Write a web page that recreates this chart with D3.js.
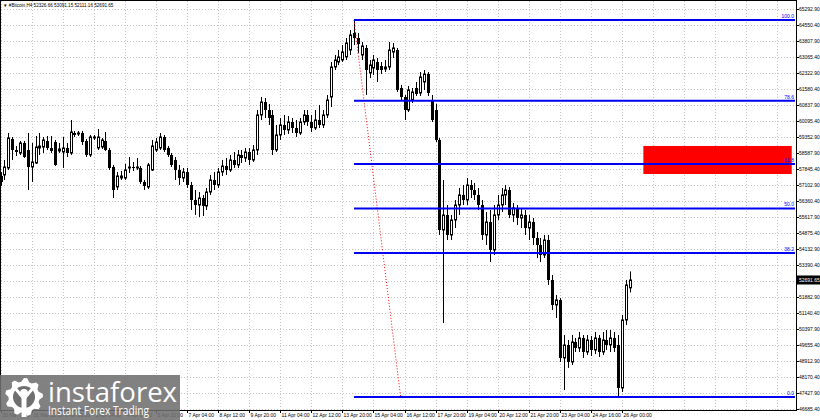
<!DOCTYPE html>
<html><head><meta charset="utf-8">
<script src="https://cdn.jsdelivr.net/npm/d3@7"></script>
<style>body{margin:0;background:#fff;} svg{display:block;font-family:"Liberation Sans",Arial,sans-serif;}</style>
</head><body><svg id="c" width="820" height="420"></svg>
<script>
// ---------- DATA ----------
const symbolTitle = "#Bitcoin,H4";
const lastOHLC = [52326.66, 53091.15, 52111.16, 52691.65];
const openP = [57533,57580,57906,59256,58743,58604,59069,58743,57952,58138,58837,58883,59162,58837,59116,58697,58650,58837,58604,59535,
59488,59535,59162,58511,59302,58837,58883,59162,58743,57952,57021,57440,57440,57906,57952,57906,57906,57254,57021,57812,
58743,58837,59349,58837,58511,58278,57812,57440,57719,57114,56416,56183,56509,56137,56788,57347,57114,57719,57999,57812,
58278,58045,58511,58371,58650,58278,58743,60373,60978,60605,60373,58743,59442,59907,59674,60047,59768,59535,60047,60373,
60047,59768,60140,59907,60373,61211,62607,62840,62933,63073,63398,64190,63957,63166,63492,62328,62561,62840,62654,62514,
62607,63305,63398,61630,61211,60605,61071,61630,61397,61909,62281,61071,60605,59209,55019,55718,54787,55485,56183,56649,
56416,57114,56881,56649,56183,54787,55392,54088,55718,56183,56649,56881,55718,56044,55578,55718,55113,55392,54647,54321,
53856,54554,52692,51528,51761,49061,49666,48875,49806,49527,49992,49340,49899,49433,49992,49340,49899,49666,49992,49666,
47665,50830,52326.66];
const highP = [57719,58278,59535,59349,58930,59162,59162,59535,59069,59395,59535,59349,59395,59395,59209,59069,59349,59069,60140,59628,
59628,59628,59256,59442,59442,59721,59302,59581,58837,58045,57719,57766,58092,58418,58185,58371,57999,57347,58138,59209,
59302,59535,59442,58930,58604,58418,58045,57906,57906,57254,56881,56788,56649,56975,57580,57719,57906,58278,58371,58511,
58650,58743,58743,58837,58837,58976,60605,61211,61164,60885,60605,59907,60233,60373,60326,60233,60140,60233,60605,60605,
60373,60605,60838,60605,61304,62840,63166,63398,63631,63957,64329,64795,64190,63771,63631,62933,63166,63026,62840,62933,
63771,63724,63492,61769,61304,61723,61630,61909,62374,62467,62374,61304,60885,59302,57347,56183,55718,56416,56975,57114,
57440,57347,57207,56975,56416,55857,55950,56183,56649,56975,57114,57021,56276,56183,56044,55950,55718,55578,54926,54647,
54787,54787,52925,51994,51854,50132,49899,50132,49992,50271,50132,50132,50085,50271,50132,50271,50364,50364,50271,50132,
51063,52692,53091.15];
const lowP = [57068,57347,57812,58278,58464,58511,58371,56881,57254,58092,58511,58604,58743,58604,57999,58604,57906,58418,58511,59349,
59395,58976,58418,58418,59209,58743,58790,58697,57812,56509,56881,57347,57347,57673,57766,57812,57161,56881,56928,57766,
58650,58743,58650,58418,57952,57347,57114,57254,56975,55950,55718,55625,55671,55950,56649,56881,56975,57533,57580,57719,
57906,57906,58138,58185,58045,58185,58511,60140,60233,59907,58511,58650,59209,59442,59488,59535,59349,59442,59907,59861,
59581,59674,59768,59768,60233,60745,62467,62700,62840,62933,63166,63631,63259,62933,61304,62095,62235,61909,62281,62374,
62467,63026,61443,61071,60140,60512,60931,61257,61257,61536,61257,60047,59116,54787,50690,54554,54554,55113,55718,56183,
56183,56509,56416,55950,54554,54321,53530,53856,55485,55857,56183,55578,55392,55252,55113,54787,54554,54321,53716,53530,
53716,52459,51295,50923,48875,47571,48596,48735,49340,49340,49061,49201,49154,49247,49108,49201,49433,49340,49340,47246,
47478,50597,52111.16];
const closeP = [57254,57952,59302,58743,58650,59069,58418,57952,58185,58883,58930,59209,58837,58697,58045,58790,58837,58604,59581,59442,
59535,59116,58511,59349,59349,59349,59209,58743,57906,56881,57533,57533,57812,57952,57906,57952,57254,57068,58045,58930,
59116,59349,58743,58511,58045,57812,57440,57719,57114,56416,56183,56509,56137,56788,57347,57114,57719,57999,57812,58278,
58045,58511,58371,58650,58278,58743,60373,60978,60605,60233,58743,59442,59907,59674,60047,59768,59535,60047,60373,60047,
59768,60140,59907,60373,61071,62607,62933,63073,63305,63724,64097,63957,63678,63585,62467,62700,62933,62467,62467,62607,
63398,63492,61536,61211,60605,61536,61443,61350,62142,62281,61397,60140,59209,55019,55718,54787,55485,56183,56649,56416,
57114,56881,56649,56183,54787,55392,54088,55718,56183,56649,56881,55718,56044,55578,55718,55113,55392,54647,54321,53856,
54554,52692,51528,51761,49061,49666,48875,49806,49527,49992,49340,49899,49433,49992,49340,49899,49666,49992,49527,47665,
50830,52459,52691.65];
const timeLabels = ["30 Mar 2021","31 Mar 12:00","1 Apr 20:00","3 Apr 04:00","4 Apr 12:00","5 Apr 20:00","7 Apr 04:00",
"8 Apr 12:00","9 Apr 20:00","11 Apr 04:00","12 Apr 12:00","13 Apr 20:00","15 Apr 04:00","16 Apr 12:00","17 Apr 20:00",
"19 Apr 04:00","20 Apr 12:00","21 Apr 20:00","23 Apr 04:00","24 Apr 16:00","26 Apr 00:00"];
const timeLabelStep = 8;
const priceLabels = [65292.90,64550.40,63807.90,63065.40,62322.90,61580.40,60837.90,60095.40,59352.90,58587.90,57845.40,
57102.90,56360.40,55617.90,54875.40,54132.90,53390.40,52647.90,51882.90,51140.40,50397.90,49655.40,48912.90,48170.40,47427.90,46685.40];
const fibLevels = [100.0, 78.6, 61.8, 50.0, 38.2, 0.0];
const fibHigh = 64795, fibLow = 47246;
const fibHighBar = 91, fibLowBar = 103;
const zoneTop = 58930, zoneBottom = 57626;
const zoneBars = [165.5, 203.7];
const chartEndBar = 204.8;

// ---------- LAYOUT ----------
const plotRight = 796, plotBottom = 410;
const svg = d3.select("#c");
const x = d3.scaleLinear().domain([0, chartEndBar]).range([0.6, plotRight]);
const y = d3.scaleLinear().domain([46685.4, 65292.9]).range([409, 9.3]);
const fmt = d3.format(".2f");

const g = svg.append("g");
// grid
const gridBars = d3.range(0, chartEndBar, timeLabelStep);
g.selectAll(".vg").data(gridBars).enter().append("line")
  .attr("x1", d => Math.round(x(d)) + 0.5).attr("x2", d => Math.round(x(d)) + 0.5)
  .attr("y1", 1).attr("y2", plotBottom)
  .attr("stroke", "#c4c4c4").attr("stroke-dasharray", "1,2");
g.selectAll(".hg").data(priceLabels).enter().append("line")
  .attr("x1", 1).attr("x2", plotRight)
  .attr("y1", d => Math.round(y(d)) + 0.5).attr("y2", d => Math.round(y(d)) + 0.5)
  .attr("stroke", "#c4c4c4").attr("stroke-dasharray", "1,2");

// red zone
g.append("rect")
  .attr("x", x(zoneBars[0])).attr("width", x(zoneBars[1]) - x(zoneBars[0]))
  .attr("y", y(zoneTop)).attr("height", y(zoneBottom) - y(zoneTop))
  .attr("fill", "#ff0000");

// candles
const bars = openP.map((o, i) => ({i, o, h: highP[i], l: lowP[i], c: closeP[i]}));
const cg = g.append("g");
bars.forEach(b => {
  const cx = Math.round(x(b.i));
  cg.append("line").attr("x1", cx + 0.5).attr("x2", cx + 0.5)
    .attr("y1", y(b.h)).attr("y2", y(b.l)).attr("stroke", "#000").attr("stroke-width", 1);
  const top = y(Math.max(b.o, b.c)), bot = y(Math.min(b.o, b.c));
  const hgt = Math.max(1, bot - top);
  if (b.c >= b.o) {
    cg.append("rect").attr("x", cx - 0.5).attr("y", top).attr("width", 2).attr("height", hgt)
      .attr("fill", "#fff").attr("stroke", "#000").attr("stroke-width", 1);
  } else {
    cg.append("rect").attr("x", cx - 1).attr("y", top).attr("width", 3).attr("height", hgt).attr("fill", "#000");
  }
});

// fibonacci
const fibPrice = lv => fibLow + (fibHigh - fibLow) * lv / 100;
g.append("line")
  .attr("x1", x(fibHighBar)).attr("y1", y(fibHigh)).attr("x2", x(fibLowBar)).attr("y2", y(fibLow))
  .attr("stroke", "#ff0000").attr("stroke-dasharray", "1,2").attr("stroke-width", 1);
fibLevels.forEach(lv => {
  const yy = y(fibPrice(lv));
  g.append("line").attr("x1", x(fibHighBar)).attr("x2", plotRight - 1).attr("y1", yy).attr("y2", yy)
    .attr("stroke", "#0000f0").attr("stroke-width", 2);
  g.append("text").attr("x", plotRight - 2).attr("y", yy - 2).attr("text-anchor", "end")
    .attr("font-size", 5).attr("fill", "#0000ff").text(d3.format(".1f")(lv));
});

// frame / axes
svg.append("rect").attr("x", 0.5).attr("y", 0.5).attr("width", plotRight).attr("height", plotBottom)
  .attr("fill", "none").attr("stroke", "#000");
// right axis
const lastClose = lastOHLC[3];
const lastY = y(lastClose);
priceLabels.forEach(p => {
  const yy = Math.round(y(p)) + 0.5;
  svg.append("line").attr("x1", plotRight).attr("x2", plotRight + 3).attr("y1", yy).attr("y2", yy).attr("stroke", "#000");
  if (Math.abs(y(p) - lastY) > 7) {
    svg.append("text").attr("x", plotRight + 3).attr("y", y(p)).attr("dy", "0.35em")
      .attr("font-size", 5).attr("fill", "#000").text(fmt(p));
  }
});
svg.append("rect").attr("x", plotRight + 1).attr("y", lastY - 4.5).attr("width", 23).attr("height", 9).attr("fill", "#000");
svg.append("text").attr("x", plotRight + 3).attr("y", lastY).attr("dy", "0.35em")
  .attr("font-size", 5).attr("fill", "#fff").text(fmt(lastClose));

// bottom axis
timeLabels.forEach((t, k) => {
  const xx = Math.round(x(k * timeLabelStep)) + 0.5;
  svg.append("line").attr("x1", xx).attr("x2", xx).attr("y1", plotBottom).attr("y2", plotBottom + 3).attr("stroke", "#000");
  svg.append("text").attr("x", xx + 1).attr("y", 417).attr("font-size", 5).attr("fill", "#000").text(t);
});

// title
svg.append("text").attr("x", 3).attr("y", 7).attr("font-size", 4.6).attr("fill", "#000")
  .text("\u25BC " + symbolTitle + " " + lastOHLC.map(fmt).join(" "));

// watermark (drawn over the axis labels, as in the reference)
const wm = svg.append("g");
wm.append("rect").attr("x", 0).attr("y", 375).attr("width", 180).attr("height", 45).attr("fill", "#6f6f6f").attr("opacity", 0.88);
const gc = [24, 397];
const teeth = 9, rO = 19, rI = 15.5;
const pts = [];
for (let k = 0; k < teeth * 4; k++) {
  const a = (k / (teeth * 4)) * 2 * Math.PI;
  const r = (k % 4 === 0 || k % 4 === 1) ? rO : rI;
  pts.push([gc[0] + r * Math.sin(a), gc[1] - r * Math.cos(a)]);
}
wm.append("path").attr("d", d3.line()(pts) + "Z").attr("fill", "#fff");
wm.append("circle").attr("cx", gc[0]).attr("cy", gc[1]).attr("r", 11).attr("fill", "#6f6f6f");
wm.append("circle").attr("cx", gc[0]).attr("cy", gc[1] - 4).attr("r", 4).attr("fill", "#fff");
wm.append("path").attr("d", `M${gc[0]-9},${gc[1]-9} L${gc[0]},${gc[1]+2} L${gc[0]+9},${gc[1]-9}`)
  .attr("stroke", "#fff").attr("stroke-width", 3).attr("fill", "none");
wm.append("rect").attr("x", gc[0] - 2.5).attr("y", gc[1]).attr("width", 5).attr("height", 20).attr("fill", "#fff");
wm.append("text").attr("x", 48).attr("y", 402).attr("font-size", 28).attr("font-family", "'Open Sans',sans-serif")
  .attr("fill", "#fff").attr("textLength", 129).attr("lengthAdjust", "spacingAndGlyphs").text("instaforex");
wm.append("text").attr("x", 48).attr("y", 415).attr("font-size", 12).attr("font-family", "'Open Sans',sans-serif")
  .attr("fill", "#fff").attr("textLength", 101).attr("lengthAdjust", "spacingAndGlyphs").text("Instant Forex Trading");
</script></body></html>
